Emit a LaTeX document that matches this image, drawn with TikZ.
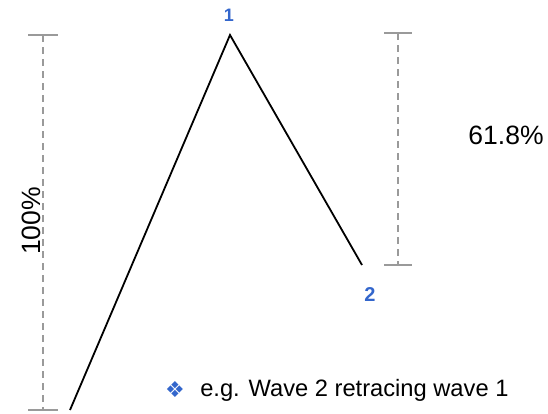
\documentclass[tikz,border=0pt]{standalone}
\usepackage{fontspec}
\setmainfont{Liberation Sans}
\newfontfamily\symfont{DejaVu Sans}
\usetikzlibrary{positioning}
\definecolor{wavelabel}{HTML}{3366CC}
\definecolor{guide}{HTML}{9A9A9A}

\begin{document}
\begin{tikzpicture}[
    x=1pt, y=-1pt,
    wave/.style={
        draw,
        line width=1.8pt,
        black
    },
    guideline/.style={
        draw=guide,
        line width=1.2pt,
        dash pattern=on 7pt off 5pt
    },
    guidecap/.style={
        draw=guide,
        line width=1.6pt
    },
    wavenum/.style={
        text=wavelabel,
        font=\fontsize{18}{18}\selectfont\bfseries,
        inner sep=0pt
    },
    pct/.style={
        font=\fontsize{26.5}{27}\selectfont,
        inner sep=0pt
    }
]
\useasboundingbox (0,0) rectangle (548,413);

% wave points
\coordinate (w0) at (70,410);
\coordinate (w1) at (230,35);
\coordinate (w2) at (362,265);

% guide ends
\coordinate (Ltop) at (43,35);
\coordinate (Lbot) at (43,410);
\coordinate (Rtop) at (398,33);
\coordinate (Rbot) at (398,265);

\draw[guideline] (Ltop) -- (Lbot);
\draw[guidecap] ([xshift=-15pt]Ltop) -- ([xshift=15pt]Ltop);
\draw[guidecap] ([xshift=-15pt]Lbot) -- ([xshift=15pt]Lbot);

\draw[guideline] (Rtop) -- (Rbot);
\draw[guidecap] ([xshift=-14pt]Rtop) -- ([xshift=14pt]Rtop);
\draw[guidecap] ([xshift=-14pt]Rbot) -- ([xshift=14pt]Rbot);

\draw[wave] (w0) -- (w1) -- (w2);

\node[wavenum] (n1) at (229,15) {1};
\node[wavenum, font=\fontsize{20}{20}\selectfont\bfseries] (n2) at (370,295) {2};

\node[pct] (retr) at (506,135) {61.8\%};
\node[pct, rotate=90] (full) at (31,221) {100\%};

\node[text=wavelabel, font=\symfont\fontsize{22}{22}\selectfont, inner sep=0pt] (bullet) at (175,390) {❖};
\node[font=\fontsize{23.7}{24}\selectfont, inner sep=0pt, anchor=west, right=15pt of bullet] (note) {e.g. Wave 2 retracing wave 1};

\end{tikzpicture}
\end{document}
